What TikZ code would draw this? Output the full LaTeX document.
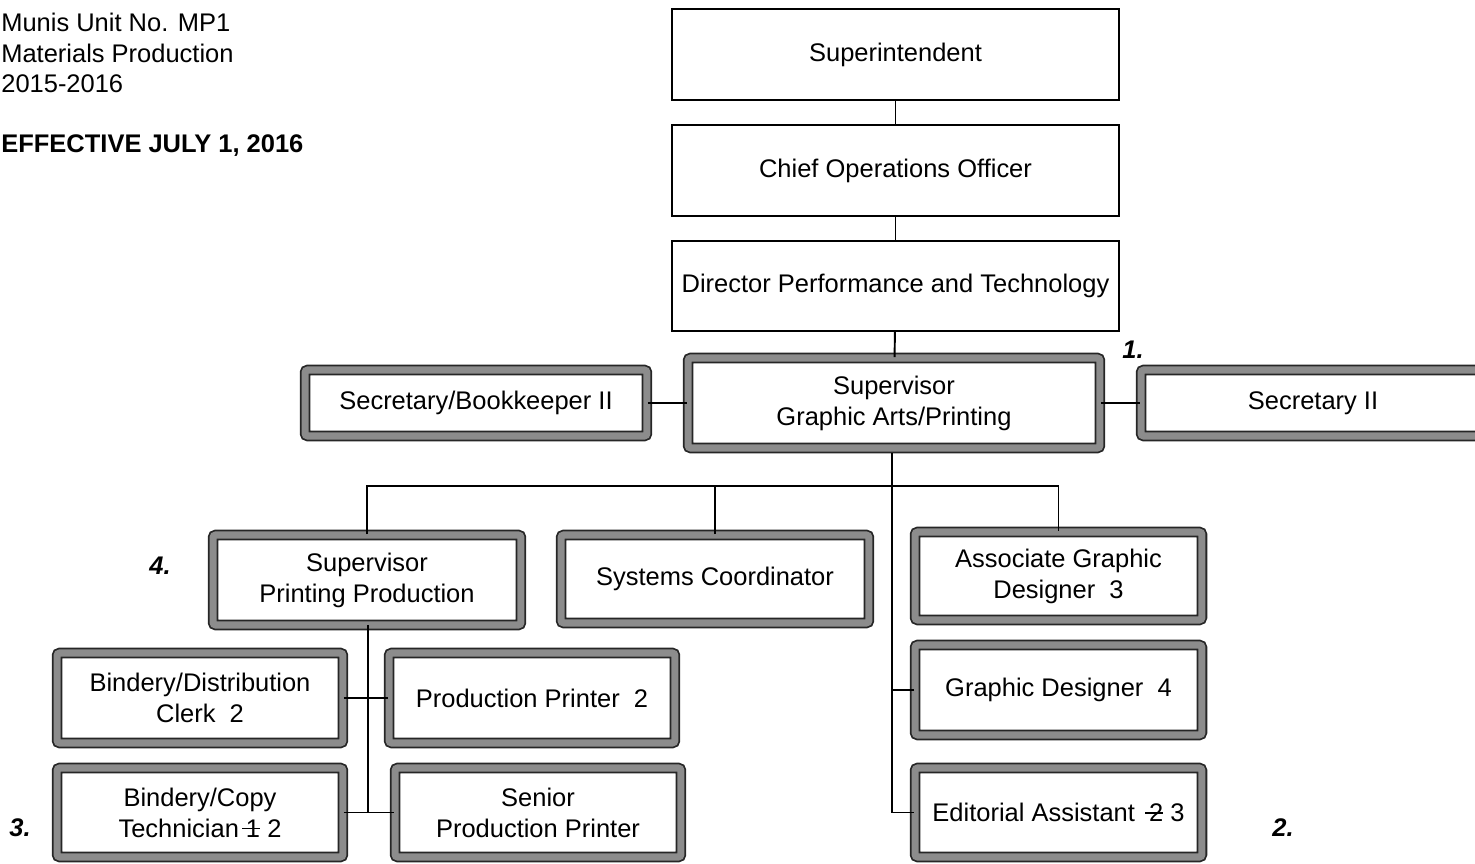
\documentclass[tikz,border=0pt]{standalone}
\usepackage{fontspec}
\setmainfont{Liberation Sans}
\usetikzlibrary{calc}
\newcommand\strikenum[1]{\ooalign{#1\cr\hidewidth\rule[0.3em]{0.7em}{0.06em}}}
\tikzset{
  plainbox/.style={rectangle,draw,line width=1.1pt,fill=white,align=center,
    font=\fontsize{14.5}{17.6}\selectfont,inner sep=2pt},
  heavybox/.style={rectangle,draw=black!85,line width=1pt,double=black!45,
    double distance=4pt,rounded corners=1.5pt,fill=white,align=center,
    font=\fontsize{14.5}{17.6}\selectfont,inner sep=2pt},
  link/.style={line width=1.1pt},
  header/.style={anchor=west,inner sep=0pt,font=\fontsize{14.5}{17.6}\selectfont},
  notemark/.style={inner sep=0pt,font=\fontsize{14.5}{17.6}\selectfont\bfseries\itshape}
}
\begin{document}
\begin{tikzpicture}[x=0.02cm,y=-0.02cm]
\useasboundingbox (0,0) rectangle (1475,864);
\clip (0,0) rectangle (1475,864);
%heading
\node[header] (unit) at (1,22) {Munis Unit No. MP1};
\node[header] (dept) at (1,53) {Materials Production};
\node[header] (year) at (1,84) {2015-2016};
\node[header,font=\fontsize{14.5}{17.6}\selectfont\bfseries] (eff) at (1,146) {EFFECTIVE JULY 1, 2016};
%upper chain
\node[plainbox,minimum width=8.94cm,minimum height=1.82cm] (supt) at (895.5,54.5) {Superintendent};
\node[plainbox,minimum width=8.94cm,minimum height=1.82cm] (coo) at (895.5,170.5) {Chief Operations Officer};
\node[plainbox,minimum width=8.94cm,minimum height=1.80cm] (dpt) at (895.5,286) {Director Performance and Technology};
%supervisor row
\node[heavybox,minimum width=8.24cm,minimum height=1.80cm] (sgap) at (894,403) {Supervisor\\Graphic Arts/Printing};
\node[heavybox,minimum width=6.84cm,minimum height=1.32cm] (secbk) at (476,403) {Secretary/Bookkeeper II};
\node[heavybox,minimum width=6.88cm,minimum height=1.32cm] (sec) at (1313,403) {Secretary II};
%second level
\node[heavybox,minimum width=6.16cm,minimum height=1.80cm] (spp) at (367,580) {Supervisor\\Printing Production};
\node[heavybox,minimum width=6.16cm,minimum height=1.76cm] (syco) at (715,579) {Systems Coordinator};
\node[heavybox,minimum width=5.74cm,minimum height=1.76cm] (agd) at (1058.5,576) {Associate Graphic\\Designer~~3};
\node[heavybox,minimum width=5.74cm,minimum height=1.80cm] (gd) at (1058.5,690) {Graphic Designer~~4};
\node[heavybox,minimum width=5.74cm,minimum height=1.78cm] (ea) at (1058.5,812.5) {Editorial Assistant~~\strikenum{2} 3};
%printing staff
\node[heavybox,minimum width=5.72cm,minimum height=1.80cm] (bdc) at (200,698) {Bindery/Distribution\\Clerk~~2};
\node[heavybox,minimum width=5.72cm,minimum height=1.80cm] (pp) at (532,698) {Production Printer~~2};
\node[heavybox,minimum width=5.72cm,minimum height=1.78cm] (bct) at (200,812.5) {Bindery/Copy\\Technician \strikenum{1} 2};
\node[heavybox,minimum width=5.72cm,minimum height=1.78cm] (spr) at (538,812.5) {Senior\\Production Printer};
%connectors
\draw[link] (supt) -- (coo);
\draw[link] (coo) -- (dpt);
\draw[link] (dpt) -- (sgap);
\draw[link] (secbk) -- (sgap);
\draw[link] (sgap) -- (sec);
\coordinate (bus) at (892,486);
\coordinate (trunk) at (892,453);
\draw[link] (trunk) -- (trunk |- ea.west) -- (ea.west);
\draw[link] (spp.north) |- (bus) -| (agd.north);
\draw[link] (syco.north) -- (syco.north |- bus);
\draw[link] (gd.west) -- (gd.west -| trunk);
\coordinate (drop) at (368,625);
\draw[link] (drop) -- (drop |- spr.west);
\draw[link] (bdc.east) -- (pp.west);
\draw[link] (bct.east) -- (spr.west);
%numbered notes
\node[notemark] (n1) at (1133,350) {1.};
\node[notemark] (n2) at (1283,828) {2.};
\node[notemark] (n3) at (20,828) {3.};
\node[notemark] (n4) at (160,566) {4.};
\end{tikzpicture}
\end{document}
